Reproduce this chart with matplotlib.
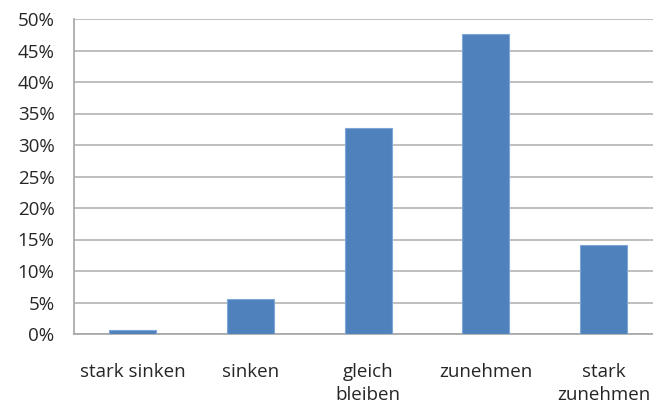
import numpy as np
import matplotlib.pyplot as plt
from matplotlib.ticker import PercentFormatter

# Daten
kategorien = ['stark sinken', 'sinken', 'gleich\nbleiben', 'zunehmen', 'stark\nzunehmen']
anteile = [0.6, 5.6, 32.7, 47.6, 14.1]
y_ticks = np.arange(0, 51, 5)

plt.rcParams['font.family'] = ['Open Sans', 'DejaVu Sans']

W, H = 653, 405
fig = plt.figure(figsize=(W / 100, H / 100), dpi=100)
ax = fig.add_axes([74 / W, (H - 334) / H, 588.5 / W, 315 / H])

x = np.arange(len(kategorien))
ax.bar(x, anteile, width=0.4, color='#4F81BD', edgecolor='#7FA6D6', linewidth=0.8, zorder=3)

ax.set_xlim(-0.5, len(kategorien) - 0.5)
ax.set_ylim(0, 50)
ax.set_yticks(y_ticks)
ax.yaxis.set_major_formatter(PercentFormatter(decimals=0))
ax.set_xticks(x)
ax.set_xticklabels(kategorien, va='top', linespacing=1.35)

ax.grid(axis='y', color='#B4B4B4', linewidth=1.2, zorder=0)
for s in ['top', 'right']:
    ax.spines[s].set_visible(False)
for s in ['left', 'bottom']:
    ax.spines[s].set_color('#A6A6A6')
    ax.spines[s].set_linewidth(1.2)

ax.tick_params(axis='y', length=0, pad=14, labelsize=13.5, colors='#262626')
ax.tick_params(axis='x', length=0, pad=21, labelsize=13.5, colors='#262626')

fig.savefig('out.png', dpi=100)
